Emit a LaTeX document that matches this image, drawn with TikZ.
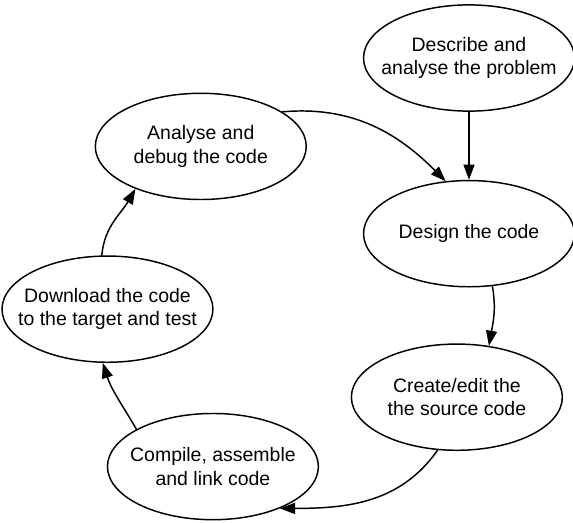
\documentclass[tikz,border=0pt]{standalone}
\usepackage{fontspec}
\setmainfont{Liberation Sans}
\usepackage{tikz}
\usetikzlibrary{arrows.meta,positioning,shapes.geometric}
\tikzset{
    every picture/.style={line cap=round,line join=round},
    stage/.style={draw=black,ellipse,line width=1.1pt,
      minimum width=55.6mm,minimum height=28mm,inner xsep=-4.5mm,inner ysep=0pt,
      font=\fontsize{14.6pt}{17.5pt}\selectfont,align=center},
    cyclearrow/.style={-{Triangle[length=4mm,width=2.9mm]},draw=black,
      line width=1.1pt}
}

\begin{document}
\begin{tikzpicture}[x=0.75pt,y=0.75pt,on grid]
  \useasboundingbox (0,0) rectangle (573,-522);
  \node[stage] (describe) at (469,-58) {Describe and\\analyse the problem};
  \node[stage,below=46.3mm of describe] (design) {Design the code};
  \draw[cyclearrow] (describe) -- (design);

  \node[stage,below left=43.1mm and 3.2mm of design] (create)
    {Create/edit the\\the source code};
  \draw[cyclearrow] (design.-66) to[out=-80,in=80] (create.58);

  \node[stage,below left=18.3mm and 64.3mm of create] (compile)
    {Compile, assemble\\and link code};
  \draw[cyclearrow] (create.-110) to[out=-125,in=0] (compile.-32);

  \node[stage,above left=41.5mm and 27.8mm of compile] (download)
    {Download the code\\to the target and test};
  \draw[cyclearrow] (compile.154) to[out=120,in=-72] (download.-95);

  \node[stage,above right=42.9mm and 24.6mm of download] (analyse)
    {Analyse and\\debug the code};
  \draw[cyclearrow] (download.96) to[out=85,in=-120] (analyse.213);
  \draw[cyclearrow] (analyse.23) to[out=5,in=135] (design.114);
\end{tikzpicture}
\end{document}
